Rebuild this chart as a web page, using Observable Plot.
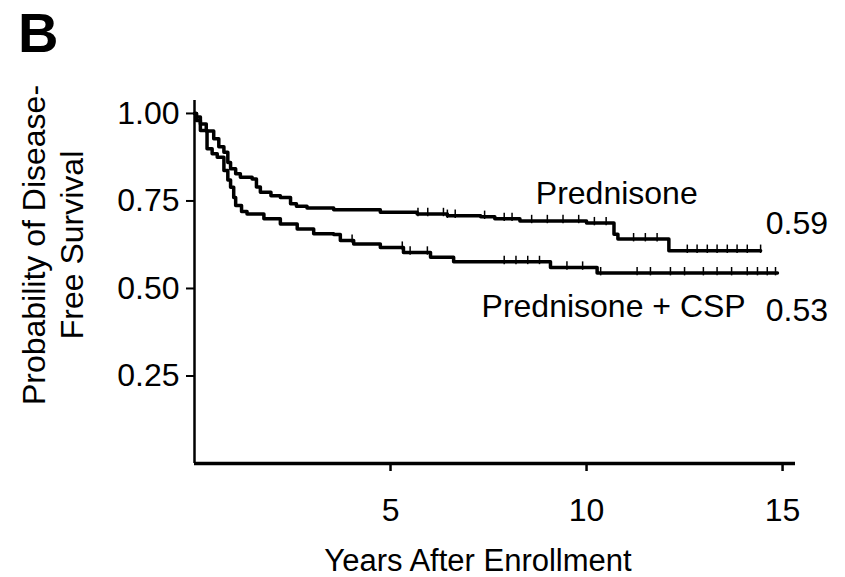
<!DOCTYPE html>
<html>
<head>
<meta charset="utf-8">
<script src="https://cdn.jsdelivr.net/npm/d3@7"></script>
<script src="https://cdn.jsdelivr.net/npm/@observablehq/plot@0.6"></script>
<style>
  html, body { margin: 0; padding: 0; background: #fff; }
  #chart svg { display: block; }
</style>
</head>
<body>
<div id="chart"></div>
<script>
// Prednisone (upper curve)
const prednisoneT = [0, 0.05, 0.15, 0.30, 0.49, 0.62, 0.75, 0.85, 0.92, 1.05, 1.17, 1.47, 1.58, 1.68, 1.95, 2.19, 2.45, 2.60, 2.87, 3.55, 4.74, 5.68, 6.45, 7.30, 7.66, 8.30, 10.00, 10.70, 10.80, 12.10, 14.44];
const prednisoneS = [1.00, 0.99, 0.97, 0.95, 0.928, 0.905, 0.889, 0.86, 0.842, 0.828, 0.818, 0.813, 0.79, 0.775, 0.765, 0.760, 0.742, 0.735, 0.730, 0.725, 0.718, 0.713, 0.708, 0.705, 0.699, 0.693, 0.687, 0.655, 0.641, 0.608, 0.608];
// Prednisone + CSP (lower curve)
const cspT = [0, 0.05, 0.15, 0.32, 0.45, 0.58, 0.75, 0.85, 0.92, 1.00, 1.05, 1.20, 1.34, 1.77, 2.19, 2.62, 3.04, 3.55, 3.72, 4.06, 4.74, 5.33, 6.02, 6.61, 9.08, 10.27, 14.87];
const cspS = [1.00, 0.98, 0.951, 0.899, 0.885, 0.875, 0.837, 0.81, 0.789, 0.76, 0.737, 0.72, 0.713, 0.699, 0.684, 0.670, 0.656, 0.654, 0.637, 0.627, 0.617, 0.603, 0.589, 0.576, 0.560, 0.544, 0.544];
// censoring marks (years)
const prednisoneCensor = [5.7, 5.95, 6.35, 6.45, 6.65, 7.4, 7.9, 8.1, 8.6, 9.0, 9.4, 9.8, 10.2, 10.5, 11.2, 11.5, 11.8, 12.57, 12.82, 13.08, 13.33, 13.59, 13.84, 14.1, 14.44];
const cspCensor = [4.02, 5.3, 5.5, 5.94, 7.9, 8.2, 8.5, 8.8, 9.5, 9.9, 10.36, 11.29, 11.63, 12.14, 12.5, 12.98, 13.33, 13.7, 14.1, 14.36, 14.61, 14.82];
// axis ticks
const yTicks = [0.25, 0.50, 0.75, 1.00];
const xTicks = [5, 10, 15];
// labels
const seriesNames = ["Prednisone", "Prednisone + CSP"];
const endValues = ["0.59", "0.53"];

const prednisone = prednisoneT.map((t, i) => ({t, s: prednisoneS[i]}));
const csp = cspT.map((t, i) => ({t, s: cspS[i]}));
function stepAt(curve, t) {
  let s = curve[0].s;
  for (const d of curve) { if (d.t <= t) s = d.s; }
  return s;
}
const censorP = prednisoneCensor.map(t => ({t, s: stepAt(prednisone, t)}));
const censorC = cspCensor.map(t => ({t, s: stepAt(csp, t)}));

const font = "'Liberation Sans', Arial, Helvetica, sans-serif";

const chart = Plot.plot({
  width: 845,
  height: 577,
  marginLeft: 194,
  marginRight: 50,
  marginTop: 100,
  marginBottom: 114,
  style: {fontFamily: font, fontSize: "32px", color: "#000", background: "#fff"},
  x: {domain: [0, 15.33]},
  y: {domain: [0, 1.037]},
  marks: [
    Plot.axisY({ticks: yTicks, tickFormat: d3.format(".2f"), tickSize: 8, tickPadding: 7, fontSize: 32, strokeWidth: 2, label: null}),
    Plot.axisX({ticks: xTicks, tickSize: 8, tickPadding: 27, fontSize: 32, strokeWidth: 2.5, label: null}),
    Plot.ruleX([0], {strokeWidth: 2.5}),
    Plot.ruleY([0], {strokeWidth: 3.5}),
    Plot.line(prednisone, {x: "t", y: "s", curve: "step-after", stroke: "#000", strokeWidth: 3.5}),
    Plot.line(csp, {x: "t", y: "s", curve: "step-after", stroke: "#000", strokeWidth: 3.5}),
    Plot.ruleX(censorP, {x: "t", y1: d => d.s - 0.008, y2: d => d.s + 0.016, stroke: "#000", strokeWidth: 1.5}),
    Plot.ruleX(censorC, {x: "t", y1: d => d.s - 0.008, y2: d => d.s + 0.016, stroke: "#000", strokeWidth: 1.5}),
    Plot.text([seriesNames[0]], {x: 10.77, y: 0.771, text: d => d, fontSize: 32, textAnchor: "middle", fill: "#000"}),
    Plot.text([seriesNames[1]], {x: 14.06, y: 0.448, text: d => d, fontSize: 32, textAnchor: "end", fill: "#000"}),
    Plot.text([endValues[0]], {x: 14.57, y: 0.684, text: d => d, fontSize: 32, textAnchor: "start", fill: "#000"}),
    Plot.text([endValues[1]], {x: 14.57, y: 0.436, text: d => d, fontSize: 32, textAnchor: "start", fill: "#000"})
  ]
});

const svg = d3.select(chart);
svg.append("text")
  .attr("x", 18).attr("y", 52)
  .attr("text-anchor", "start")
  .attr("font-family", font).attr("font-size", 56).attr("font-weight", "bold")
  .attr("fill", "#000").text("B");
svg.append("text")
  .attr("transform", "translate(45,245) rotate(-90)")
  .attr("text-anchor", "middle")
  .attr("font-family", font).attr("font-size", 32).attr("fill", "#000")
  .text("Probability of Disease-");
svg.append("text")
  .attr("transform", "translate(83,245) rotate(-90)")
  .attr("text-anchor", "middle")
  .attr("font-family", font).attr("font-size", 32).attr("fill", "#000")
  .text("Free Survival");
svg.append("text")
  .attr("x", 478).attr("y", 571)
  .attr("text-anchor", "middle")
  .attr("font-family", font).attr("font-size", 31).attr("fill", "#000")
  .text("Years After Enrollment");

document.getElementById("chart").appendChild(chart);
</script>
</body>
</html>
